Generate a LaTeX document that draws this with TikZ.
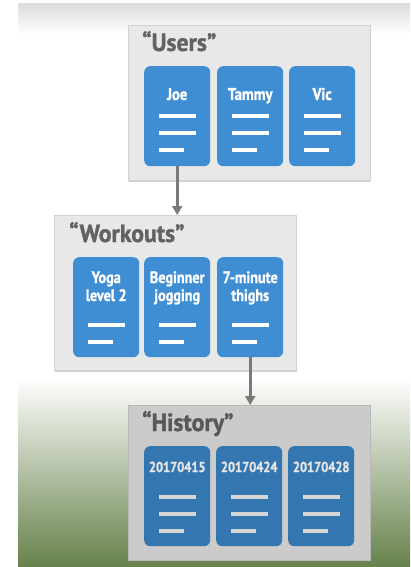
\documentclass[tikz,border=0pt]{standalone}
\usepackage{fontspec}
\setmainfont{PT Sans}
\newfontfamily\condfont[FakeStretch=0.86, FakeBold=1.2]{PT Sans Bold}
\newfontfamily\titlefont[FakeStretch=0.95, FakeBold=1.2]{PT Sans Bold}
\usetikzlibrary{arrows.meta,shadows,calc}
\definecolor{boxfill}{HTML}{E8E8E8}
\definecolor{boxedge}{HTML}{D2D2D2}
\definecolor{histbox}{HTML}{CBCBCB}
\definecolor{histedge}{HTML}{B8B8B8}
\definecolor{cardblue}{HTML}{3F8ED4}
\definecolor{histblue}{HTML}{3476B0}
\definecolor{titlegray}{HTML}{626262}
\definecolor{arrowgray}{HTML}{7A7A7A}
\definecolor{topgray}{HTML}{DCDCDC}
\definecolor{midgreen}{HTML}{BCC7AE}
\definecolor{botgreen}{HTML}{66814A}
\definecolor{histline}{HTML}{D6D6D6}
\begin{document}
\begin{tikzpicture}[x=1pt,y=-1pt,
  collbox/.style={draw=boxedge, fill=boxfill, line width=0.6pt,
    drop shadow={shadow xshift=1pt, shadow yshift=-1.5pt, opacity=0.35},
    minimum width=242pt, minimum height=155pt, anchor=north west, inner sep=0pt},
  card/.style={fill=cardblue, rounded corners=6pt, minimum width=66pt,
    minimum height=100pt, anchor=north west, inner sep=0pt},
  title/.style={anchor=base west, text=titlegray, inner sep=0pt,
    font=\titlefont\fontsize{25}{28}\selectfont},
  cardtext/.style={anchor=base, text=white, inner sep=0pt, align=center,
    font=\condfont\fontsize{17}{18}\selectfont},
  cline/.style={draw=white, line width=4.5pt},
  link/.style={draw=arrowgray, line width=2.6pt,
    -{Triangle[width=10pt,length=9pt]}}]
\useasboundingbox (0,0) rectangle (410,567);
% background
\fill[white] (18,4) rectangle (410,567);
\shade[top color=topgray, bottom color=white] (18,4) rectangle (410,34);
\shade[top color=white, middle color=midgreen, bottom color=botgreen] (18,378) rectangle (410,567);

% Users
\node[collbox] (users) at (128,25) {};
\node[title] (users-t) at (142,51) {“Users”};
\foreach \n/\x/\t in {joe/144/Joe, tammy/217/Tammy, vic/289/Vic} {
  \node[card] (\n) at (\x,66) {};
  \node[cardtext] (\n-t) at ($(\n.north)+(0,34)$) {\t};
  \draw[cline] ($(\n.north west)+(15,50)$) -- ++(37,0);
  \draw[cline] ($(\n.north west)+(15,67)$) -- ++(37,0);
  \draw[cline] ($(\n.north west)+(15,84)$) -- ++(25,0);
}

% Workouts
\node[collbox] (workouts) at (54,215) {};
\node[title] (workouts-t) at (69,242) {“Workouts”};
\foreach \n/\x/\t in {yoga/73/{Yoga\\level 2}, jog/144/{Beginner\\jogging}, thighs/217/{7-minute\\thighs}} {
  \node[card] (\n) at (\x,257) {};
  \node[cardtext, font=\condfont\fontsize{16.5}{18}\selectfont] (\n-t) at ($(\n.north)+(0,44)$) {\t};
  \draw[cline] ($(\n.north west)+(15,68)$) -- ++(37,0);
  \draw[cline] ($(\n.north west)+(15,85)$) -- ++(25,0);
}

% History
\node[collbox, fill=histbox, draw=histedge] (history) at (128,405) {};
\node[title, text=titlegray!90!black] (history-t) at (142,431) {“History”};
\foreach \n/\x/\t in {h1/144/20170415, h2/216/20170424, h3/288/20170428} {
  \node[card, fill=histblue] (\n) at (\x,446) {};
  \node[cardtext, text=histline!60!white, font=\condfont\fontsize{14.5}{16}\selectfont] (\n-t) at ($(\n.north)+(0,26)$) {\t};
  \draw[cline, draw=histline] ($(\n.north west)+(15,51)$) -- ++(37,0);
  \draw[cline, draw=histline] ($(\n.north west)+(15,68)$) -- ++(37,0);
  \draw[cline, draw=histline] ($(\n.north west)+(15,85)$) -- ++(25,0);
}

% connectors
\draw[link] (joe.south) -- (joe.south |- workouts.north);
\draw[link] (thighs.south) -- (thighs.south |- history.north);
\end{tikzpicture}
\end{document}
